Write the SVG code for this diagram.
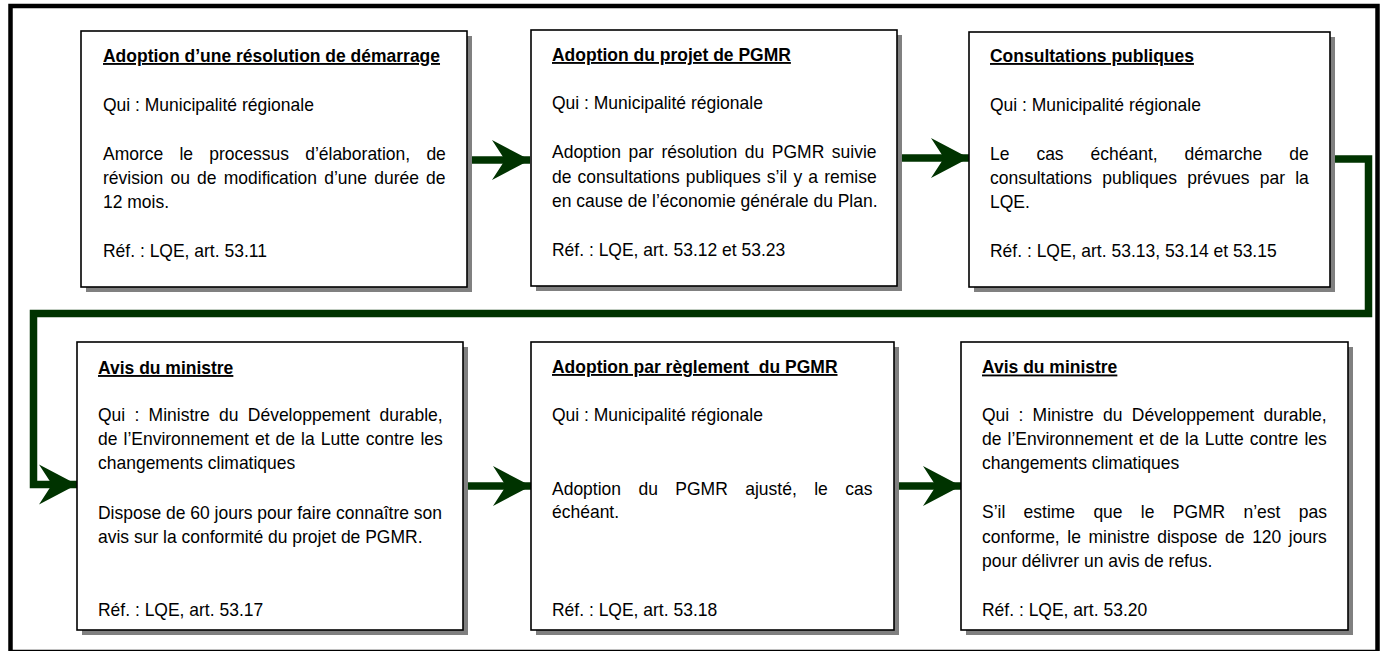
<svg xmlns="http://www.w3.org/2000/svg" width="1383" height="651" viewBox="0 0 1383 651">
<style>
.frame{fill:none;stroke:#000;stroke-width:4.5}
.shadow{fill:#808080}
.box{fill:#fff;stroke:#000;stroke-width:1.6}
text{font-family:"Liberation Sans",Arial,sans-serif;font-size:18.6px;fill:#000}
.t{font-weight:bold;text-decoration:underline;white-space:pre}
.conn{fill:none;stroke:#003300;stroke-width:7.5;stroke-linejoin:miter}
</style>
<defs>
<marker id="ah" markerUnits="userSpaceOnUse" viewBox="-40 -22 42 44" markerWidth="42" markerHeight="44" refX="0" refY="0" orient="auto">
<path d="M0,0 L-38,-20 L-25,0 L-38,20 Z" fill="#003300"/>
</marker>
</defs>
<rect class="frame" x="10.5" y="6" width="1367" height="646"/>

<g id="connectors">
<path class="conn" d="M467,160 L530,160" marker-end="url(#ah)"/>
<path class="conn" d="M897,158 L969,158" marker-end="url(#ah)"/>
<path class="conn" d="M1330,159 L1368.5,159 L1368.5,313.5 L33.5,313.5 L33.5,484.5 L77,484.5" marker-end="url(#ah)"/>
<path class="conn" d="M463,486 L531,486" marker-end="url(#ah)"/>
<path class="conn" d="M894,486 L961,486" marker-end="url(#ah)"/>
</g>

<g id="node1">
<rect class="shadow" x="86" y="36" width="386" height="256"/>
<rect class="box" x="81" y="31" width="386" height="256"/>
<g transform="translate(103,0) scale(0.94,1)">
<text class="t" x="0" y="62">Adoption d’une résolution de démarrage</text>
<text x="0" y="111">Qui : Municipalité régionale</text>
<text x="0" y="160.5" word-spacing="12.1">Amorce le processus d’élaboration, de</text>
<text x="0" y="184.5" word-spacing="2.5">révision ou de modification d’une durée de</text>
<text x="0" y="208.5">12 mois.</text>
<text x="0" y="257.5">Réf. : LQE, art. 53.11</text>
</g>
</g>

<g id="node2">
<rect class="shadow" x="536" y="35" width="366" height="256"/>
<rect class="box" x="531" y="30" width="366" height="256"/>
<g transform="translate(552,0) scale(0.94,1)">
<text class="t" x="0" y="61">Adoption du projet de PGMR</text>
<text x="0" y="109.5">Qui : Municipalité régionale</text>
<text x="0" y="158.5" word-spacing="2.9">Adoption par résolution du PGMR suivie</text>
<text x="0" y="183" word-spacing="1.4">de consultations publiques s’il y a remise</text>
<text x="0" y="207.5">en cause de l’économie générale du Plan.</text>
<text x="0" y="256.5">Réf. : LQE, art. 53.12 et 53.23</text>
</g>
</g>

<g id="node3">
<rect class="shadow" x="974" y="37" width="361" height="255"/>
<rect class="box" x="969" y="32" width="361" height="255"/>
<g transform="translate(990,0) scale(0.94,1)">
<text class="t" x="0" y="62">Consultations publiques</text>
<text x="0" y="111">Qui : Municipalité régionale</text>
<text x="0" y="160.5" word-spacing="23.5">Le cas échéant, démarche de</text>
<text x="0" y="184.5" word-spacing="5.7">consultations publiques prévues par la</text>
<text x="0" y="208.5">LQE.</text>
<text x="0" y="257.5">Réf. : LQE, art. 53.13, 53.14 et 53.15</text>
</g>
</g>

<g id="node4">
<rect class="shadow" x="82" y="347" width="386" height="288"/>
<rect class="box" x="77" y="342" width="386" height="288"/>
<g transform="translate(98,0) scale(0.94,1)">
<text class="t" x="0" y="374">Avis du ministre</text>
<text x="0" y="421.5" word-spacing="4.7">Qui : Ministre du Développement durable,</text>
<text x="0" y="445.5" word-spacing="1.3">de l’Environnement et de la Lutte contre les</text>
<text x="0" y="469.5">changements climatiques</text>
<text x="0" y="519">Dispose de 60 jours pour faire connaître son</text>
<text x="0" y="543.5">avis sur la conformité du projet de PGMR.</text>
<text x="0" y="616.5">Réf. : LQE, art. 53.17</text>
</g>
</g>

<g id="node5">
<rect class="shadow" x="536" y="347" width="363" height="288"/>
<rect class="box" x="531" y="342" width="363" height="288"/>
<g transform="translate(552,0) scale(0.94,1)">
<text class="t" x="0" y="373">Adoption par règlement  du PGMR</text>
<text x="0" y="421">Qui : Municipalité régionale</text>
<text x="0" y="495" word-spacing="13.4">Adoption du PGMR ajusté, le cas</text>
<text x="0" y="518.5">échéant.</text>
<text x="0" y="616.5">Réf. : LQE, art. 53.18</text>
</g>
</g>

<g id="node6">
<rect class="shadow" x="966" y="347" width="387" height="288"/>
<rect class="box" x="961" y="342" width="387" height="288"/>
<g transform="translate(982,0) scale(0.94,1)">
<text class="t" x="0" y="373.5">Avis du ministre</text>
<text x="0" y="421" word-spacing="4.7">Qui : Ministre du Développement durable,</text>
<text x="0" y="445" word-spacing="1.3">de l’Environnement et de la Lutte contre les</text>
<text x="0" y="469">changements climatiques</text>
<text x="0" y="518.5" word-spacing="14.3">S’il estime que le PGMR n’est pas</text>
<text x="0" y="543" word-spacing="2.9">conforme, le ministre dispose de 120 jours</text>
<text x="0" y="567.5">pour délivrer un avis de refus.</text>
<text x="0" y="616.5">Réf. : LQE, art. 53.20</text>
</g>
</g>
</svg>
